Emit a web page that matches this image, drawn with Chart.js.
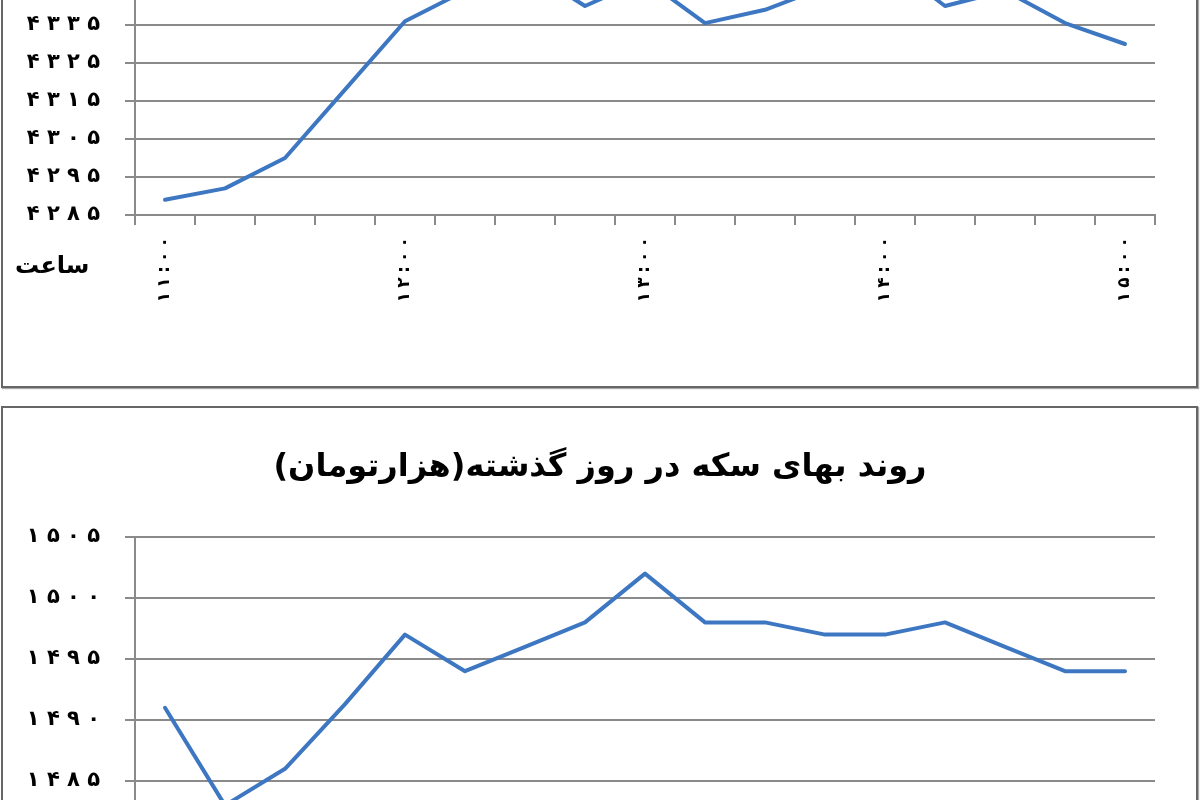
<!DOCTYPE html>
<html>
<head>
<meta charset="utf-8">
<script src="https://cdn.jsdelivr.net/npm/chart.js@4"></script>
<style>
  html, body { margin: 0; padding: 0; background: #fff; }
  body { position: relative; width: 1200px; height: 800px; overflow: hidden; }
  canvas { position: absolute; left: 0; }
  .frame { position: absolute; left: 1px; width: 1193px; border: 2px solid #666; box-shadow: 1px 1px 1px #aaa; }
</style>
</head>
<body>
<div class="frame" style="top:-20px; height:404px;"></div>
<div class="frame" style="top:406px; height:500px;"></div>
<canvas id="dollarChart" width="1200" height="536" style="top:-150px"></canvas>
<canvas id="coinChart" width="1200" height="590" style="top:410px"></canvas>
<script>
// time of day, 15 minute steps
const times = ['11:00', '11:15', '11:30', '11:45', '12:00', '12:15', '12:30', '12:45',
  '13:00', '13:15', '13:30', '13:45', '14:00', '14:15', '14:30', '14:45', '15:00'];
// upper chart (partly cut off at the top of the picture)
const dollarPrices = [4289, 4292, 4300, 4318, 4336, 4344, 4350, 4340, 4347, 4335.5,
  4339, 4345, 4352, 4340, 4344, 4335.5, 4330];
// coin price, thousand toman
const coinPrices = [1491, 1483, 1486, 1491.3, 1497, 1494, 1496, 1498, 1502, 1498,
  1498, 1497, 1497, 1498, 1496, 1494, 1494];
const coinTitle = 'روند بهای سکه در روز گذشته(هزارتومان)';
const axisTitle = 'ساعت';

const faDigits = '۰۱۲۳۴۵۶۷۸۹';
function toFa(s) {
    return String(s).replace(/[0-9]/g, d => faDigits[d]);
}
function spaced(s, sep) {
    return toFa(s).split('').join(sep);
}

const lineBlue = '#3d77c2';
const gridGray = '#8a8a8a';
const font = 'DejaVu Sans';

function baseOptions(yMin, yMax, yStep, xHeight) {
    return {
        responsive: false,
        animation: false,
        devicePixelRatio: 1,
        plugins: { legend: { display: false }, tooltip: { enabled: false } },
        scales: {
            x: {
                type: 'category',
                offset: true,
                grid: { offset: true, drawOnChartArea: false, tickLength: 10, color: gridGray, lineWidth: 2 },
                border: { color: gridGray, width: 2 },
                ticks: {
                    autoSkip: false,
                    minRotation: 90,
                    maxRotation: 90,
                    padding: 12,
                    color: '#000',
                    font: { family: font, size: 17, weight: 'bold' },
                    callback: function (v, i) {
                        return i % 4 === 0 ? spaced(this.getLabelForValue(v), '\u2005') : '';
                    }
                },
                afterFit: s => { s.height = xHeight; }
            },
            y: {
                min: yMin,
                max: yMax,
                grid: { color: gridGray, lineWidth: 2, tickLength: 10 },
                border: { color: gridGray, width: 2 },
                ticks: {
                    stepSize: yStep,
                    padding: 25,
                    color: '#000',
                    font: { family: font, size: 21, weight: 'bold' },
                    callback: v => spaced(v, ' ')
                },
                afterFit: s => { s.width = 135; }
            }
        },
        layout: { padding: { top: 0, right: 45, left: 0, bottom: 0 } }
    };
}

function lineData(values) {
    return {
        labels: times,
        datasets: [{
            data: values,
            borderColor: lineBlue,
            borderWidth: 4,
            borderCapStyle: 'round',
            borderJoinStyle: 'round',
            pointRadius: 0,
            tension: 0,
            fill: false
        }]
    };
}

// free text placed on the canvas (axis caption, centred title)
function textPlugin(text, x, y, size, align) {
    return {
        id: 'text' + Math.round(x) + '_' + Math.round(y),
        afterDraw(chart) {
            const ctx = chart.ctx;
            ctx.save();
            ctx.font = 'bold ' + size + 'px ' + font;
            ctx.fillStyle = '#000';
            ctx.textAlign = align;
            ctx.textBaseline = 'middle';
            ctx.fillText(text + '\u200F', x, y);
            ctx.restore();
        }
    };
}

const dollarOptions = baseOptions(4285, 4355, 10, 171);
dollarOptions.layout.padding.top = 99;
new Chart(document.getElementById('dollarChart'), {
    type: 'line',
    data: lineData(dollarPrices),
    options: dollarOptions,
    plugins: [textPlugin(axisTitle, 15, 417, 24, 'left')]
});

const coinOptions = baseOptions(1480, 1505, 5, 158);
coinOptions.layout.padding.top = 127;
new Chart(document.getElementById('coinChart'), {
    type: 'line',
    data: lineData(coinPrices),
    options: coinOptions,
    plugins: [textPlugin(coinTitle, 600, 58, 32, 'center')]
});
</script>
</body>
</html>
